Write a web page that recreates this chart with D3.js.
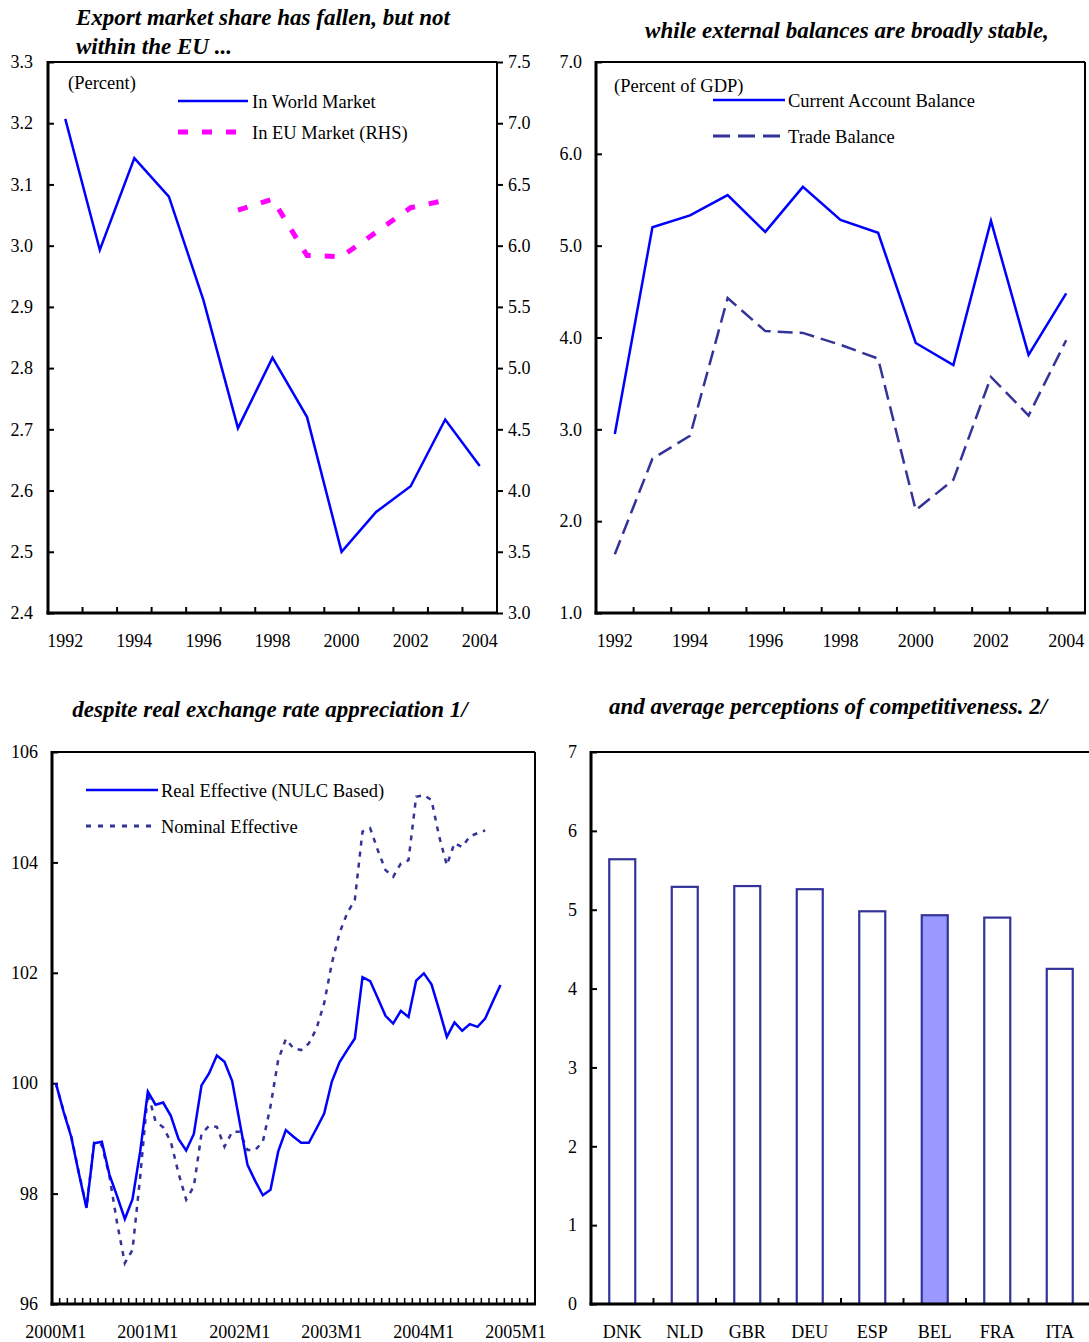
<!DOCTYPE html>
<html><head><meta charset="utf-8">
<script src="https://cdn.jsdelivr.net/npm/d3@7"></script>
<style>
body{margin:0;background:#fff}
svg{display:block}
text{font-family:"Liberation Serif","Times New Roman",serif;fill:#000}
</style>
</head><body>
<script>
// ---------- Data ----------
const years = ["1992","1993","1994","1995","1996","1997","1998","1999","2000","2001","2002","2003","2004"];
const yearLabels = ["1992","1994","1996","1998","2000","2002","2004"];
const worldShare = [3.207, 2.993, 3.143, 3.080, 2.911, 2.702, 2.817, 2.720, 2.500, 2.565, 2.607, 2.716, 2.640];
const euShare = [null, null, null, null, null, 6.29, 6.38, 5.92, 5.91, 6.11, 6.31, 6.37, null];
const shareTicksL = [2.4, 2.5, 2.6, 2.7, 2.8, 2.9, 3.0, 3.1, 3.2, 3.3];
const shareTicksR = [3.0, 3.5, 4.0, 4.5, 5.0, 5.5, 6.0, 6.5, 7.0, 7.5];

const caBalance = [2.95, 5.20, 5.33, 5.55, 5.15, 5.64, 5.28, 5.14, 3.94, 3.70, 5.27, 3.81, 4.48];
const tradeBalance = [1.64, 2.68, 2.93, 4.43, 4.07, 4.05, 3.92, 3.77, 2.12, 2.45, 3.57, 3.15, 3.97];
const balanceTicks = [1, 2, 3, 4, 5, 6, 7];

const monthYears = ["2000","2001","2002","2003","2004","2005"];
const monthNums = [1,2,3,4,5,6,7,8,9,10,11,12];
const months = [];
monthYears.forEach(y => monthNums.forEach(m => months.push(y + "M" + m)));
const monthCats = months.slice(0, 63);
const monthLabels = ["2000M1","2001M1","2002M1","2003M1","2004M1","2005M1"];
const reerNULC = [100.00, 99.49, 99.03, 98.37, 97.74, 98.91, 98.94, 98.34, 97.95, 97.54,
  97.90, 98.76, 99.85, 99.61, 99.65, 99.41, 98.99, 98.78, 99.08, 99.96,
  100.18, 100.50, 100.39, 100.04, 99.28, 98.52, 98.23, 97.97, 98.07, 98.76,
  99.15, 99.03, 98.92, 98.92, 99.18, 99.45, 100.03, 100.38, 100.60, 100.81,
  101.92, 101.85, 101.54, 101.22, 101.08, 101.31, 101.20, 101.86, 101.99, 101.79,
  101.33, 100.84, 101.10, 100.95, 101.07, 101.02, 101.17, 101.48, 101.78];
const neer = [100.00, 99.50, 99.05, 98.38, 97.76, 98.92, 98.88, 98.31, 97.46, 96.74,
  96.98, 98.30, 99.82, 99.31, 99.20, 98.94, 98.37, 97.89, 98.13, 99.08,
  99.23, 99.21, 98.85, 99.12, 99.12, 98.79, 98.79, 98.94, 99.58, 100.42,
  100.80, 100.63, 100.60, 100.72, 100.99, 101.45, 102.17, 102.72, 103.08, 103.32,
  104.56, 104.62, 104.22, 103.86, 103.74, 103.98, 104.04, 105.19, 105.22, 105.13,
  104.47, 103.95, 104.35, 104.28, 104.47, 104.53, 104.58];
const reerTicks = [96, 98, 100, 102, 104, 106];

const countries = ["DNK","NLD","GBR","DEU","ESP","BEL","FRA","ITA"];
const competitiveness = [5.64, 5.29, 5.30, 5.26, 4.98, 4.93, 4.90, 4.25];
const highlightCountry = "BEL";
const compTicks = [0, 1, 2, 3, 4, 5, 6, 7];

// ---------- Styles ----------
const BLUE = "#0000FF", NAVY = "#333399", MAGENTA = "#FF00FF";
const FONT = '"Liberation Serif","Times New Roman",serif';

const svg = d3.select("body").append("svg").attr("width", 1089).attr("height", 1342);

function styleAxis(g) {
  g.attr("font-family", FONT).attr("font-size", 18);
  g.select(".domain").remove();
  g.selectAll("line").attr("stroke", "#000").attr("stroke-width", 2);
  g.selectAll("text").attr("fill", "#000");
}
function frame(l, t, r, b, drawRight) {
  const f = svg.append("g");
  f.append("line").attr("x1", l).attr("x2", r).attr("y1", t).attr("y2", t).attr("stroke", "#000").attr("stroke-width", 2);
  if (drawRight) f.append("line").attr("x1", r).attr("x2", r).attr("y1", t).attr("y2", b).attr("stroke", "#000").attr("stroke-width", 2);
  f.append("line").attr("x1", l).attr("x2", l).attr("y1", t - 1).attr("y2", b + 1.5).attr("stroke", "#000").attr("stroke-width", 3);
  f.append("line").attr("x1", l - 1.5).attr("x2", r + 1).attr("y1", b).attr("y2", b).attr("stroke", "#000").attr("stroke-width", 3);
}
function title(x, y, txt, anchor) {
  svg.append("text").attr("x", x).attr("y", y).attr("text-anchor", anchor || "middle")
    .attr("font-size", 23).attr("font-weight", "bold").attr("font-style", "italic").text(txt);
}
function legendText(x, y, txt) {
  svg.append("text").attr("x", x).attr("y", y).attr("dy", "0.35em").attr("font-size", 18.5).text(txt);
}
function legendLine(x1, x2, y, color, width, dash) {
  const l = svg.append("line").attr("x1", x1).attr("x2", x2).attr("y1", y).attr("y2", y)
    .attr("stroke", color).attr("stroke-width", width);
  if (dash) l.attr("stroke-dasharray", dash);
}

// ---------- Panel 1: export market share ----------
(function () {
  const L = 48, R = 497, T = 62, B = 613;
  const x = d3.scaleBand().domain(years).range([L, R]);
  const y = d3.scaleLinear().domain([2.4, 3.3]).range([B, T]);
  const yr = d3.scaleLinear().domain([3.0, 7.5]).range([B, T]);
  const cx = d => x(d) + x.bandwidth() / 2;

  title(76, 25, "Export market share has fallen, but not", "start");
  title(76, 54, "within the EU ...", "start");

  svg.append("g").attr("transform", `translate(${L},0)`)
    .call(d3.axisLeft(y).tickValues(shareTicksL).tickFormat(d3.format(".1f")).tickSizeInner(-6).tickSizeOuter(0).tickPadding(15))
    .call(styleAxis);
  svg.append("g").attr("transform", `translate(${R},0)`)
    .call(d3.axisRight(yr).tickValues(shareTicksR).tickFormat(d3.format(".1f")).tickSizeInner(6).tickSizeOuter(0).tickPadding(5))
    .call(styleAxis);
  svg.append("g").attr("transform", `translate(0,${B})`)
    .call(d3.axisBottom(x).tickValues(yearLabels).tickSize(0).tickPadding(21))
    .call(styleAxis);
  svg.append("g").selectAll("line").data(years.slice(1)).join("line")
    .attr("x1", d => x(d)).attr("x2", d => x(d)).attr("y1", B).attr("y2", B - 6)
    .attr("stroke", "#000").attr("stroke-width", 2);

  frame(L, T, R, B, true);

  const world = years.map((d, i) => ({ k: d, v: worldShare[i] }));
  const eu = years.map((d, i) => ({ k: d, v: euShare[i] }));
  svg.append("path").datum(world).attr("fill", "none").attr("stroke", BLUE).attr("stroke-width", 2.5)
    .attr("stroke-linejoin", "miter")
    .attr("d", d3.line().x(d => cx(d.k)).y(d => y(d.v)));
  svg.append("path").datum(eu).attr("fill", "none").attr("stroke", MAGENTA).attr("stroke-width", 5)
    .attr("stroke-dasharray", "10,14")
    .attr("d", d3.line().defined(d => d.v != null).x(d => cx(d.k)).y(d => yr(d.v)));

  legendText(68, 83, "(Percent)");
  legendLine(178, 248, 101, BLUE, 2.5);
  legendText(252, 102, "In World Market");
  legendLine(178, 240, 132, MAGENTA, 5, "10,14");
  legendText(252, 133, "In EU Market (RHS)");
})();

// ---------- Panel 2: external balances ----------
(function () {
  const L = 596, R = 1085, T = 62, B = 613;
  const x = d3.scaleBand().domain(years).range([L, R]);
  const y = d3.scaleLinear().domain([1, 7]).range([B, T]);
  const cx = d => x(d) + x.bandwidth() / 2;

  title(847, 38, "while external balances are broadly stable,");

  svg.append("g").attr("transform", `translate(${L},0)`)
    .call(d3.axisLeft(y).tickValues(balanceTicks).tickFormat(d3.format(".1f")).tickSizeInner(-6).tickSizeOuter(0).tickPadding(14))
    .call(styleAxis);
  svg.append("g").attr("transform", `translate(0,${B})`)
    .call(d3.axisBottom(x).tickValues(yearLabels).tickSize(0).tickPadding(21))
    .call(styleAxis);
  svg.append("g").selectAll("line").data(years.slice(1)).join("line")
    .attr("x1", d => x(d)).attr("x2", d => x(d)).attr("y1", B).attr("y2", B - 6)
    .attr("stroke", "#000").attr("stroke-width", 2);

  frame(L, T, R, B, true);

  const ca = years.map((d, i) => ({ k: d, v: caBalance[i] }));
  const tb = years.map((d, i) => ({ k: d, v: tradeBalance[i] }));
  svg.append("path").datum(tb).attr("fill", "none").attr("stroke", NAVY).attr("stroke-width", 2.5)
    .attr("stroke-dasharray", "15,7")
    .attr("d", d3.line().x(d => cx(d.k)).y(d => y(d.v)));
  svg.append("path").datum(ca).attr("fill", "none").attr("stroke", BLUE).attr("stroke-width", 2.5)
    .attr("d", d3.line().x(d => cx(d.k)).y(d => y(d.v)));

  legendText(614, 86, "(Percent of GDP)");
  legendLine(713, 785, 100, BLUE, 2.5);
  legendText(788, 101, "Current Account Balance");
  legendLine(713, 780, 136, NAVY, 3, "17,8");
  legendText(788, 137, "Trade Balance");
})();

// ---------- Panel 3: exchange rates ----------
(function () {
  const L = 52, R = 535, T = 752, B = 1304;
  const x = d3.scaleBand().domain(monthCats).range([L, R]);
  const y = d3.scaleLinear().domain([96, 106]).range([B, T]);
  const cx = d => x(d) + x.bandwidth() / 2;

  title(270, 717, "despite real exchange rate appreciation 1/");

  svg.append("g").attr("transform", `translate(${L},0)`)
    .call(d3.axisLeft(y).tickValues(reerTicks).tickFormat(d3.format("d")).tickSizeInner(-6).tickSizeOuter(0).tickPadding(14))
    .call(styleAxis);
  svg.append("g").attr("transform", `translate(0,${B})`)
    .call(d3.axisBottom(x).tickValues(monthLabels).tickSize(0).tickPadding(21))
    .call(styleAxis);
  svg.append("g").selectAll("line").data(monthCats.slice(1)).join("line")
    .attr("x1", d => x(d)).attr("x2", d => x(d)).attr("y1", B).attr("y2", B - 6)
    .attr("stroke", "#000").attr("stroke-width", 1.5);

  frame(L, T, R, B, true);

  const r = reerNULC.map((v, i) => ({ k: monthCats[i], v }));
  const n = neer.map((v, i) => ({ k: monthCats[i], v }));
  svg.append("path").datum(n).attr("fill", "none").attr("stroke", NAVY).attr("stroke-width", 2.5)
    .attr("stroke-dasharray", "5,6")
    .attr("d", d3.line().x(d => cx(d.k)).y(d => y(d.v)));
  svg.append("path").datum(r).attr("fill", "none").attr("stroke", BLUE).attr("stroke-width", 2.5)
    .attr("d", d3.line().x(d => cx(d.k)).y(d => y(d.v)));

  legendLine(86, 158, 790, BLUE, 2.5);
  legendText(161, 791, "Real Effective (NULC Based)");
  legendLine(86, 158, 826, NAVY, 3, "5,7");
  legendText(161, 827, "Nominal Effective");
})();

// ---------- Panel 4: competitiveness ----------
(function () {
  const L = 591, R = 1091, T = 752, B = 1304;
  const x = d3.scaleBand().domain(countries).range([L, R]).paddingInner(0.584).paddingOuter(0.292);
  const xb = d3.scaleBand().domain(countries).range([L, R]);
  const y = d3.scaleLinear().domain([0, 7]).range([B, T]);

  title(828, 714, "and average perceptions of competitiveness. 2/");

  svg.append("g").attr("transform", `translate(${L},0)`)
    .call(d3.axisLeft(y).tickValues(compTicks).tickFormat(d3.format("d")).tickSizeInner(-6).tickSizeOuter(0).tickPadding(14))
    .call(styleAxis);
  svg.append("g").attr("transform", `translate(0,${B})`)
    .call(d3.axisBottom(xb).tickSize(0).tickPadding(21))
    .call(styleAxis);

  svg.append("g").selectAll("rect").data(countries).join("rect")
    .attr("x", d => x(d)).attr("width", x.bandwidth())
    .attr("y", (d, i) => y(competitiveness[i])).attr("height", (d, i) => B - y(competitiveness[i]))
    .attr("fill", d => d === highlightCountry ? "#9999FF" : "#FFFFFF")
    .attr("stroke", NAVY).attr("stroke-width", 2.2);

  svg.append("g").selectAll("line").data(countries.slice(1)).join("line")
    .attr("x1", d => xb(d)).attr("x2", d => xb(d)).attr("y1", B).attr("y2", B - 6)
    .attr("stroke", "#000").attr("stroke-width", 2);

  frame(L, T, R, B, true);
})();
</script>
</body></html>
